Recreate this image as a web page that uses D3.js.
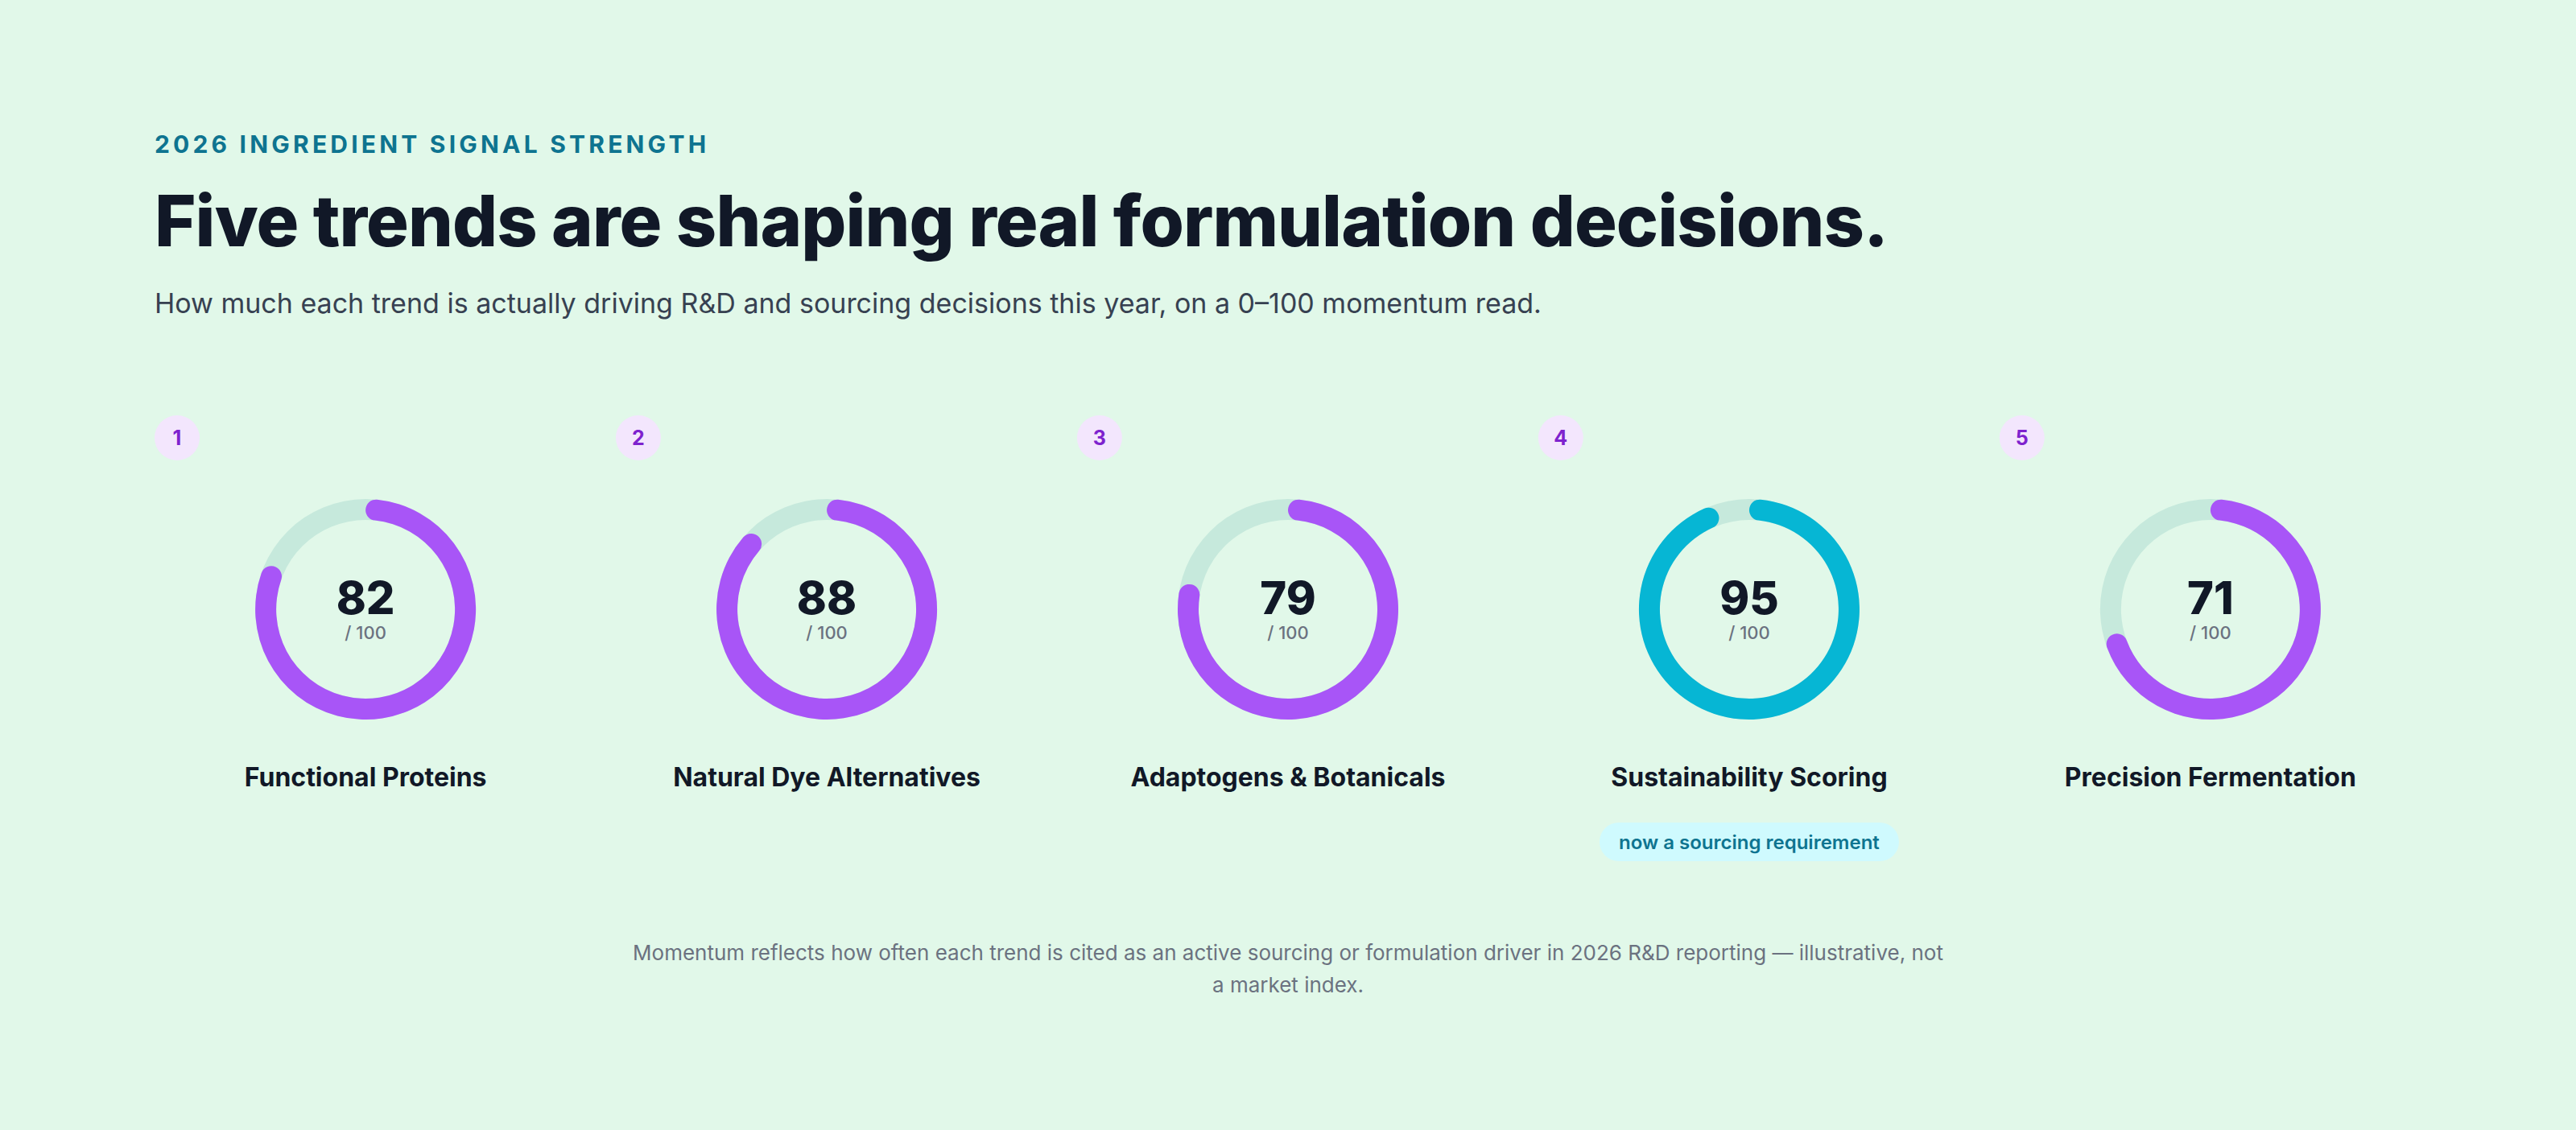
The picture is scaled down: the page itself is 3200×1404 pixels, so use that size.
<!DOCTYPE html>
<html>
<head>
<meta charset="utf-8">
<script src="https://cdn.jsdelivr.net/npm/d3@7"></script>
<style>
  html, body { margin: 0; padding: 0; background: #e1f8e9; }
  svg { display: block; font-family: Inter, "Noto Sans", sans-serif; }
</style>
</head>
<body>
<div id="chart"></div>
<script>
// data
var trends = ["Functional Proteins", "Natural Dye Alternatives", "Adaptogens & Botanicals", "Sustainability Scoring", "Precision Fermentation"];
var momentum = [82, 88, 79, 95, 71];
var highlight = [false, false, false, true, false];
var notes = ["", "", "", "now a sourcing requirement", ""];
var footLines = [
	"Momentum reflects how often each trend is cited as an active sourcing or formulation driver in 2026 R&D reporting \u2014 illustrative, not",
	"a market index."
];

var width = 3200,
	height = 1404,
	left = 192,
	right = 3008;

var svg = d3.select("#chart").append("svg")
	.attr("width", width)
	.attr("height", height);

svg.append("rect")
	.attr("width", width)
	.attr("height", height)
	.attr("fill", "#e1f8e9");

// header
svg.append("text")
	.attr("x", left).attr("y", 190)
	.attr("fill", "#0e7490")
	.style("font-size", "30px")
	.style("font-weight", 700)
	.style("letter-spacing", "4.2px")
	.text("2026 INGREDIENT SIGNAL STRENGTH");

svg.append("text")
	.attr("x", left).attr("y", 306)
	.attr("fill", "#111827")
	.style("font-size", "88px")
	.style("font-weight", 800)
	.style("letter-spacing", "-0.9px")
	.text("Five trends are shaping real formulation decisions.");

svg.append("text")
	.attr("x", left).attr("y", 389)
	.attr("fill", "#374151")
	.style("font-size", "34px")
	.text("How much each trend is actually driving R&D and sourcing decisions this year, on a 0\u2013100 momentum read.");

// columns
var x = d3.scaleBand()
	.domain(trends)
	.range([left, right])
	.paddingInner(0.085);

var scale = d3.scaleLinear().domain([0, 100]).range([0, 2 * Math.PI]);

var ring = d3.arc()
	.innerRadius(111)
	.outerRadius(137)
	.startAngle(0);

var cy = 757;

var col = svg.selectAll(".trend")
	.data(trends)
	.enter().append("g")
	.attr("class", "trend")
	.attr("transform", function(d) { return "translate(" + x(d) + ",0)"; });

// rank badge
col.append("circle")
	.attr("cx", 28).attr("cy", 544).attr("r", 28)
	.attr("fill", "#f3e6fd");
col.append("text")
	.attr("x", 28).attr("y", 553)
	.attr("text-anchor", "middle")
	.attr("fill", "#7e22ce")
	.style("font-size", "25px")
	.style("font-weight", 700)
	.text(function(d, i) { return i + 1; });

var donut = col.append("g")
	.attr("transform", "translate(" + x.bandwidth() / 2 + "," + cy + ")");

donut.append("path")
	.attr("d", ring.endAngle(2 * Math.PI).cornerRadius(0)())
	.attr("fill", "#c6e9dc");

donut.append("path")
	.attr("d", function(d, i) { return ring.endAngle(scale(momentum[i])).cornerRadius(13)(); })
	.attr("fill", function(d, i) { return highlight[i] ? "#06b6d4" : "#a855f7"; });

donut.append("text")
	.attr("y", 6)
	.attr("text-anchor", "middle")
	.attr("fill", "#111827")
	.style("font-size", "56px")
	.style("font-weight", 800)
	.text(function(d, i) { return momentum[i]; });

donut.append("text")
	.attr("y", 37)
	.attr("text-anchor", "middle")
	.attr("fill", "#6b7280")
	.style("font-size", "22px")
	.style("font-weight", 500)
	.text("/ 100");

col.append("text")
	.attr("x", x.bandwidth() / 2).attr("y", 977)
	.attr("text-anchor", "middle")
	.attr("fill", "#111827")
	.style("font-size", "32px")
	.style("font-weight", 700)
	.text(function(d) { return d; });

// pill note
var pill = col.filter(function(d, i) { return notes[i] !== ""; });
pill.append("rect")
	.attr("x", x.bandwidth() / 2 - 186).attr("y", 1022)
	.attr("width", 372).attr("height", 48)
	.attr("rx", 24)
	.attr("fill", "#cffafe");
pill.append("text")
	.attr("x", x.bandwidth() / 2).attr("y", 1055)
	.attr("text-anchor", "middle")
	.attr("fill", "#0e7490")
	.style("font-size", "24px")
	.style("font-weight", 600)
	.text(function(d) { return notes[trends.indexOf(d)]; });

// footnote
svg.append("text")
	.attr("x", width / 2)
	.attr("text-anchor", "middle")
	.attr("fill", "#6b7280")
	.style("font-size", "26px")
	.selectAll("tspan")
	.data(footLines)
	.enter().append("tspan")
	.attr("x", width / 2)
	.attr("y", function(d, i) { return 1193 + i * 40; })
	.text(function(d) { return d; });
</script>
</body>
</html>
